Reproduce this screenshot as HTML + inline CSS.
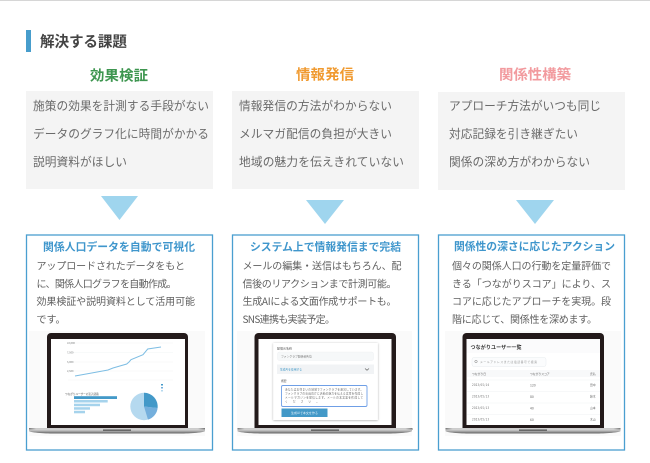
<!DOCTYPE html>
<html lang="ja"><head><meta charset="utf-8"><title>解決する課題</title>
<style>
html,body{margin:0;padding:0;background:#fff}
svg{display:block;filter:blur(.28px)}
text{font-family:"Noto Sans CJK JP","Liberation Sans",sans-serif;white-space:pre}
.p{font-size:11.7px;fill:#6a6a6a}
.b{font-size:10px;fill:#606060}
.h{font-size:14.4px;font-weight:700}
.s{font-size:10.8px;font-weight:700;fill:#3f96cc}
.t{font-size:2.6px;fill:#888}
</style></head><body>
<svg xmlns="http://www.w3.org/2000/svg" width="650" height="463" viewBox="0 0 650 463">
<defs>
<linearGradient id="base" x1="0" x2="0" y1="0" y2="1"><stop offset="0" stop-color="#d8d8d8"/><stop offset=".5" stop-color="#a2a2a2"/><stop offset="1" stop-color="#5e5e5e"/></linearGradient>
<linearGradient id="base2" x1="0" x2="1" y1="0" y2="0"><stop offset="0" stop-color="#777"/><stop offset=".04" stop-color="#ccc"/><stop offset=".96" stop-color="#ccc"/><stop offset="1" stop-color="#777"/></linearGradient>
<filter id="sh" x="-10%" y="-10%" width="120%" height="120%"><feDropShadow dx="0" dy=".5" stdDeviation="1" flood-color="#000" flood-opacity=".35"/></filter>
</defs>
<rect width="650" height="463" fill="#fff"/>
<rect width="650" height="1" fill="#d6d6d6"/>
<rect x="26" y="30" width="5" height="22" fill="#479dcc"/>
<text x="40" y="46.6" font-size="14.6" font-weight="700" fill="#444" textLength="87">解決する課題</text>

<text class="h" x="90" y="80.5" fill="#3e9650" textLength="58">効果検証</text>
<text class="h" x="296" y="79.5" fill="#f09a30" textLength="58">情報発信</text>
<text class="h" x="499" y="79.5" fill="#f29a9e" textLength="72">関係性構築</text>

<rect x="26" y="91" width="187" height="98" fill="#f4f4f4"/>
<rect x="232" y="91" width="187" height="98" fill="#f4f4f4"/>
<rect x="438" y="92" width="187" height="98" fill="#f4f4f4"/>

<text class="p" x="33" y="110" textLength="176">施策の効果を計測する手段がない</text>
<text class="p" x="33" y="138" textLength="176">データのグラフ化に時間がかかる</text>
<text class="p" x="33" y="166" textLength="94">説明資料がほしい</text>
<text class="p" x="239" y="110" textLength="153">情報発信の方法がわからない</text>
<text class="p" x="239" y="138" textLength="153">メルマガ配信の負担が大きい</text>
<text class="p" x="239" y="166" textLength="165">地域の魅力を伝えきれていない</text>
<text class="p" x="449" y="110" textLength="152">アプローチ方法がいつも同じ</text>
<text class="p" x="449" y="138" textLength="129">対応記録を引き継ぎたい</text>
<text class="p" x="449" y="166" textLength="141">関係の深め方がわからない</text>

<polygon points="101,196 138,196 119.5,220" fill="#9fd5ee"/>
<polygon points="306,200 344,200 325,224" fill="#9fd5ee"/>
<polygon points="516,200 554,200 535,224" fill="#9fd5ee"/>

<rect x="26.500" y="235" width="186" height="215" fill="#fff" stroke="#4a9fd0" stroke-width="1.300"/>
<rect x="232.500" y="235" width="186" height="215" fill="#fff" stroke="#4a9fd0" stroke-width="1.300"/>
<rect x="438.500" y="235" width="186" height="215" fill="#fff" stroke="#4a9fd0" stroke-width="1.300"/>

<text class="s" x="43" y="250.7" textLength="152">関係人口データを自動で可視化</text>
<text class="s" x="250" y="250.7" textLength="151">システム上で情報発信まで完結</text>
<text class="s" x="454" y="250" textLength="161">関係性の深さに応じたアクション</text>

<text class="b" x="36.500" y="269.500" textLength="148.500">アップロードされたデータをもと</text>
<text class="b" x="36.500" y="287.500" textLength="140">に、関係人口グラフを自動作成。</text>
<text class="b" x="36.500" y="305" textLength="158.500">効果検証や説明資料として活用可能</text>
<text class="b" x="36.500" y="323" textLength="29">です。</text>

<text class="b" x="242.500" y="269.500" textLength="159">メールの編集・送信はもちろん、配</text>
<text class="b" x="242.500" y="287.500" textLength="154">信後のリアクションまで計測可能。</text>
<text class="b" x="242.500" y="305" textLength="154">生成AIによる文面作成サポートも。</text>
<text class="b" x="242.500" y="323" textLength="92.500">SNS連携も実装予定。</text>

<text class="b" x="452" y="269.500" textLength="159">個々の関係人口の行動を定量評価で</text>
<text class="b" x="452" y="287.500" textLength="159">きる「つながりスコア」により、ス</text>
<text class="b" x="452" y="305" textLength="159">コアに応じたアプローチを実現。段</text>
<text class="b" x="452" y="323" textLength="145">階に応じて、関係性を深めます。</text>

<!-- laptop 1 -->
<g>
<rect x="29" y="331" width="176" height="105" fill="#fafafa"/>
<path d="M47,430V337a4,4 0 0 1 4,-4H184a4,4 0 0 1 4,4V430Z" fill="#231a1a"/>
<rect x="51" y="339" width="134" height="86" fill="#fff"/>
<g stroke="#eef1f3" stroke-width=".4"><path d="M68,343H173M68,352.500H173M68,362H173M68,371H173M68,380H173"/></g>
<text class="t" x="67" y="344">10,000</text><text class="t" x="67" y="353.500">7,500</text><text class="t" x="67" y="363">5,000</text><text class="t" x="67" y="372">2,500</text>
<polyline points="75,376 91.700,373 108,370 113,368 126.700,364 129,362 131,359.700 143,354.700 147.700,349 161,347" fill="none" stroke="#7dbde3" stroke-width="1"/>
<text class="t" x="65" y="395" style="fill:#555">つながりユーザーの流入経路</text>
<rect x="74" y="396.200" width="43" height="2.800" fill="#4399c8"/>
<rect x="74" y="400" width="33.700" height="2.500" fill="#a6d3ec"/>
<rect x="74" y="403.700" width="26" height="2.500" fill="#a6d3ec"/>
<rect x="74" y="407.200" width="16" height="2.500" fill="#a6d3ec"/>
<rect x="74" y="410.800" width="11" height="2.500" fill="#a6d3ec"/>
<circle cx="144" cy="406.500" r="13.700" fill="#b5d9ef"/>
<path d="M144,406.500V392.800A13.700,13.700 0 0 1 157.600,408Z" fill="#4399c8"/>
<path d="M144,406.500L157.600,408A13.700,13.700 0 0 1 148,419.600Z" fill="#74afdc"/>
<rect x="161" y="384" width="2" height="1.500" fill="#4399c8"/><rect x="161" y="387" width="2" height="1.500" fill="#74afdc"/><rect x="161" y="390" width="2" height="1.500" fill="#b5d9ef"/>
<rect x="29" y="428" width="176" height="2" fill="url(#base2)"/>
<path d="M29,429.500H205V431C205,432.500 190,433.500 180,433.500H54C44,433.500 29,432.500 29,431Z" fill="url(#base)"/>
<rect x="103" y="429.500" width="28" height="1.300" fill="#555"/>
</g>

<!-- laptop 2 -->
<g>
<rect x="237" y="331" width="175" height="105" fill="#fafafa"/>
<path d="M254.500,430V337a4,4 0 0 1 4,-4H392a4,4 0 0 1 4,4V430Z" fill="#231a1a"/>
<rect x="258.500" y="339" width="133" height="86" fill="#fff"/>
<rect x="273.300" y="343" width="104.500" height="77" fill="#fff" filter="url(#sh)"/>
<text x="277" y="349.500" font-size="3" fill="#555">配信元名称</text>
<rect x="277.500" y="352" width="96" height="8.500" rx="2" fill="#f6f8f9" stroke="#eceef0" stroke-width=".4"/>
<text x="281" y="357.500" font-size="2.800" fill="#777">ファンクラブ関係者各位</text>
<rect x="277" y="364.500" width="97" height="9.500" fill="#f1f3f5"/>
<text x="280" y="370.500" font-size="2.800" fill="#4399c8">生成AIを使用する</text>
<path d="M365,368.500l2,1.800l2,-1.800" fill="none" stroke="#666" stroke-width=".7"/>
<text x="281" y="382" font-size="2.800" fill="#666">概要</text>
<rect x="281.500" y="385.500" width="85.500" height="21" rx="1.500" fill="#fff" stroke="#6f9fe6" stroke-width=".9"/>
<text x="285" y="390.500" font-size="2.700" fill="#666" textLength="78">あなたはお住まいの地域でファンクラブを運営しています。</text>
<text x="285" y="394.500" font-size="2.700" fill="#666" textLength="78">ファンクラブの会員向けに活動の魅力を伝える文章を作成し</text>
<text x="285" y="398.500" font-size="2.700" fill="#666" textLength="78">メールマガジンを配信します。メールの本文案を作成して</text>
<text x="285" y="402.500" font-size="2.700" fill="#666" textLength="34">ください。</text>
<rect x="281.500" y="408.500" width="46" height="8.500" fill="#4399c8"/>
<text x="291" y="414" font-size="3" fill="#dff0fa" textLength="27">生成AIで本文を作る</text>
<rect x="237.500" y="428" width="175" height="2" fill="url(#base2)"/>
<path d="M237.500,429.500H412V431C412,432.500 397,433.500 387,433.500H262C252,433.500 237.500,432.500 237.500,431Z" fill="url(#base)"/>
<rect x="311" y="429.500" width="28" height="1.300" fill="#555"/>
</g>

<!-- laptop 3 -->
<g>
<rect x="445" y="331" width="176" height="105" fill="#fafafa"/>
<path d="M462.500,430V337a4,4 0 0 1 4,-4H600a4,4 0 0 1 4,4V430Z" fill="#231a1a"/>
<rect x="466.500" y="339" width="133.500" height="86" fill="#fff"/>
<rect x="466.500" y="339" width="133.500" height="14" fill="#fbfbfc"/>
<text x="470.500" y="349" font-size="5" font-weight="700" fill="#333" textLength="51">つながりユーザー一覧</text>
<rect x="472" y="357.500" width="74" height="9" rx="2" fill="#fbfcfd" stroke="#e8ecef" stroke-width=".5"/>
<text x="480" y="363" font-size="2.800" fill="#999" textLength="57">メールアドレスまたは電話番号で検索</text>
<circle cx="476" cy="361.500" r="1.200" fill="none" stroke="#777" stroke-width=".5"/>
<rect x="467" y="370" width="133" height="7" fill="#f8f9fa"/>
<g font-size="2.800" fill="#666">
<text x="472" y="375">つながり日</text><text x="530" y="375">つながりスコア</text><text x="590" y="375">氏名</text>
<text x="472" y="386" textLength="17">2023/05/14</text><text x="530" y="386.500" font-size="3.400">120</text><text x="590" y="386">田中</text>
<text x="472" y="397.500" textLength="17">2023/05/13</text><text x="530" y="398" font-size="3.400">80</text><text x="590" y="397.500">鈴木</text>
<text x="472" y="409" textLength="17">2023/05/13</text><text x="530" y="409.500" font-size="3.400">40</text><text x="590" y="409">山本</text>
<text x="472" y="420.500" textLength="17">2023/05/13</text><text x="530" y="421" font-size="3.400">60</text><text x="590" y="420.500">木山</text>
</g>
<path d="M467,380H600M467,391.500H600M467,403H600M467,414.500H600" stroke="#eff1f3" stroke-width=".5"/>
<rect x="445.500" y="428" width="175" height="2" fill="url(#base2)"/>
<path d="M445.500,429.500H620.500V431C620.500,432.500 605,433.500 595,433.500H470C460,433.500 445.500,432.500 445.500,431Z" fill="url(#base)"/>
<rect x="519" y="429.500" width="28" height="1.300" fill="#555"/>
</g>
</svg>
</body></html>
